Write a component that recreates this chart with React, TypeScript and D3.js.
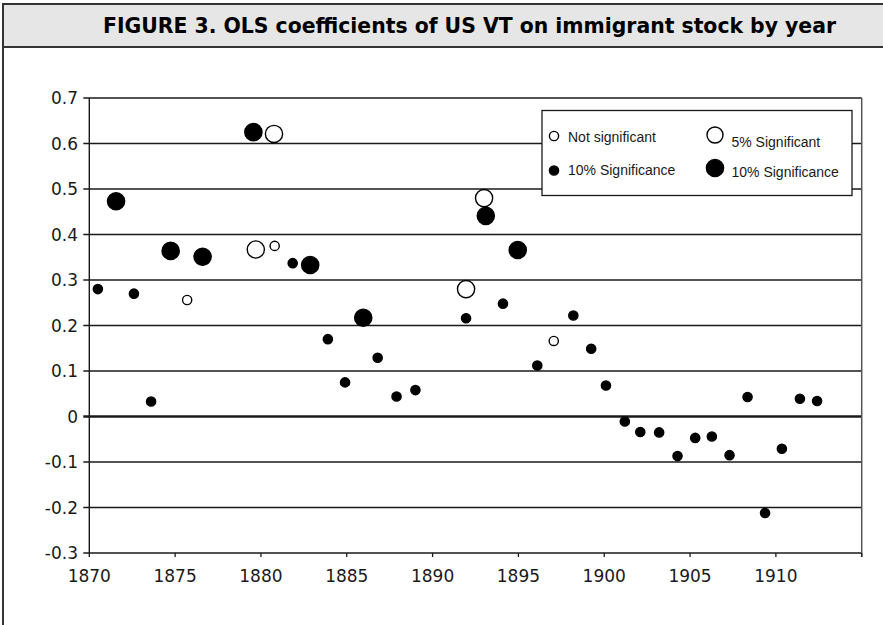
import * as d3 from "d3";

const WIDTH = 883;
const HEIGHT = 625;
const PLOT = { left: 89.3, right: 861.7, top: 98, bottom: 553 };

const TITLE = "FIGURE 3. OLS coefficients of US VT on immigrant stock by year";

// x positions are read as fractional years off the axis
const notSigYears = [1875.7, 1880.8, 1897.06];
const notSigValues = [0.256, 0.375, 0.166];

const sig10SmallYears = [
  1870.5, 1872.6, 1873.6, 1881.85, 1883.9, 1884.9, 1886.8, 1887.9, 1889.0,
  1891.95, 1894.1, 1896.1, 1898.2, 1899.24, 1900.1, 1901.2, 1902.1, 1903.2,
  1904.27, 1905.3, 1906.27, 1907.3, 1908.35, 1909.37, 1910.35, 1911.4, 1912.4,
];
const sig10SmallValues = [
  0.28, 0.27, 0.033, 0.337, 0.17, 0.075, 0.129, 0.044, 0.058, 0.216, 0.248,
  0.112, 0.222, 0.149, 0.068, -0.011, -0.034, -0.035, -0.087, -0.047, -0.044,
  -0.085, 0.043, -0.212, -0.071, 0.039, 0.034,
];

const sig5Years = [1879.7, 1880.76, 1891.95, 1893.0];
const sig5Values = [0.367, 0.621, 0.28, 0.48];

const sig10BigYears = [1871.56, 1874.74, 1876.6, 1879.56, 1882.87, 1885.96, 1893.1, 1894.96];
const sig10BigValues = [0.473, 0.364, 0.351, 0.625, 0.333, 0.217, 0.441, 0.366];

const xTicks = [1870, 1875, 1880, 1885, 1890, 1895, 1900, 1905, 1910, 1915];
const xTickLabels = ["1870", "1875", "1880", "1885", "1890", "1895", "1900", "1905", "1910", ""];
const yTicks = [0.7, 0.6, 0.5, 0.4, 0.3, 0.2, 0.1, 0, -0.1, -0.2, -0.3];

const SMALL_R = 4.6;
const BIG_R = 8.6;
const FONT = "'DejaVu Sans', sans-serif";
const LEGEND_FONT = "'Liberation Sans', Arial, sans-serif";

type Series = { years: number[]; values: number[]; r: number; filled: boolean };

const series: Series[] = [
  { years: notSigYears, values: notSigValues, r: SMALL_R, filled: false },
  { years: sig10SmallYears, values: sig10SmallValues, r: SMALL_R, filled: true },
  { years: sig5Years, values: sig5Values, r: BIG_R, filled: false },
  { years: sig10BigYears, values: sig10BigValues, r: BIG_R, filled: true },
];

const legendItems = [
  { label: "Not significant", r: SMALL_R, filled: false, x: 554, y: 136, tx: 568, ty: 141.5 },
  { label: "10% Significance", r: SMALL_R, filled: true, x: 554, y: 170.5, tx: 568, ty: 175 },
  { label: "5% Significant", r: 8, filled: false, x: 715, y: 135, tx: 731.5, ty: 146.5 },
  { label: "10% Significance", r: BIG_R, filled: true, x: 715, y: 168, tx: 731.5, ty: 176.5 },
];

// plain hyphen instead of d3's unicode minus, like the original
const fmtY = (t: number) => (t === 0 ? "0" : d3.format(".1f")(t).replace("\u2212", "-"));

const App = () => {
  const xScale = d3.scaleLinear().domain([1870, 1915]).range([PLOT.left, PLOT.right]);
  const yScale = d3.scaleLinear().domain([-0.3, 0.7]).range([PLOT.bottom, PLOT.top]);

  const grid = yTicks.map((t, i) => {
    const y = yScale(t);
    return (
      <g key={i}>
        <line
          x1={PLOT.left - 6}
          x2={PLOT.right}
          y1={y}
          y2={y}
          stroke="#1a1a1a"
          strokeWidth={t === 0 ? 2.6 : 1.3}
        />
        <text
          x={78}
          y={y}
          textAnchor="end"
          dominantBaseline="central"
          fontFamily={FONT}
          fontSize={17}
          fill="#1a1a1a"
        >
          {fmtY(t)}
        </text>
      </g>
    );
  });

  const xAxis = xTicks.map((t, i) => {
    const x = xScale(t);
    return (
      <g key={i}>
        <line x1={x} x2={x} y1={PLOT.bottom} y2={PLOT.bottom + 4} stroke="#1a1a1a" strokeWidth={1.3} />
        <text x={x} y={582} textAnchor="middle" fontFamily={FONT} fontSize={17} fill="#1a1a1a">
          {xTickLabels[i]}
        </text>
      </g>
    );
  });

  const points = series.flatMap((s, si) =>
    s.years.map((yr, i) => (
      <circle
        key={`${si}-${i}`}
        cx={xScale(yr)}
        cy={yScale(s.values[i])}
        r={s.r}
        fill={s.filled ? "#000" : "#fff"}
        stroke="#000"
        strokeWidth={1.4}
      />
    ))
  );

  return (
    <svg
      width={WIDTH}
      height={HEIGHT}
      style={{ position: "absolute", left: 0, top: 0, background: "#fff" }}
    >
      {/* outer frame */}
      <line x1={3} x2={3} y1={46} y2={HEIGHT} stroke="#333" strokeWidth={2} />
      {/* title band */}
      <rect x={3} y={4} width={WIDTH + 10} height={43} fill="#e6e6e6" stroke="#333" strokeWidth={2} />
      <text
        x={103}
        y={32.5}
        textLength={733}
        lengthAdjust="spacingAndGlyphs"
        fontFamily="'Liberation Sans Narrow', 'DejaVu Sans Condensed', 'Liberation Sans', sans-serif"
        fontWeight="bold"
        fontSize={22}
        fill="#000"
      >
        {TITLE}
      </text>

      {grid}
      <line x1={PLOT.left} x2={PLOT.left} y1={PLOT.top} y2={PLOT.bottom} stroke="#1a1a1a" strokeWidth={1.4} />
      <line x1={PLOT.right} x2={PLOT.right} y1={PLOT.top} y2={PLOT.bottom + 4} stroke="#555" strokeWidth={1.5} />
      {xAxis}
      {points}

      {/* legend */}
      <rect x={542} y={110.5} width={310} height={85} fill="#fff" stroke="#1a1a1a" strokeWidth={1.3} />
      {legendItems.map((d, i) => (
        <g key={i}>
          <circle cx={d.x} cy={d.y} r={d.r} fill={d.filled ? "#000" : "#fff"} stroke="#000" strokeWidth={1.4} />
          <text x={d.tx} y={d.ty} fontFamily={LEGEND_FONT} fontSize={14} fill="#1a1a1a">
            {d.label}
          </text>
        </g>
      ))}
    </svg>
  );
};

export default App;
